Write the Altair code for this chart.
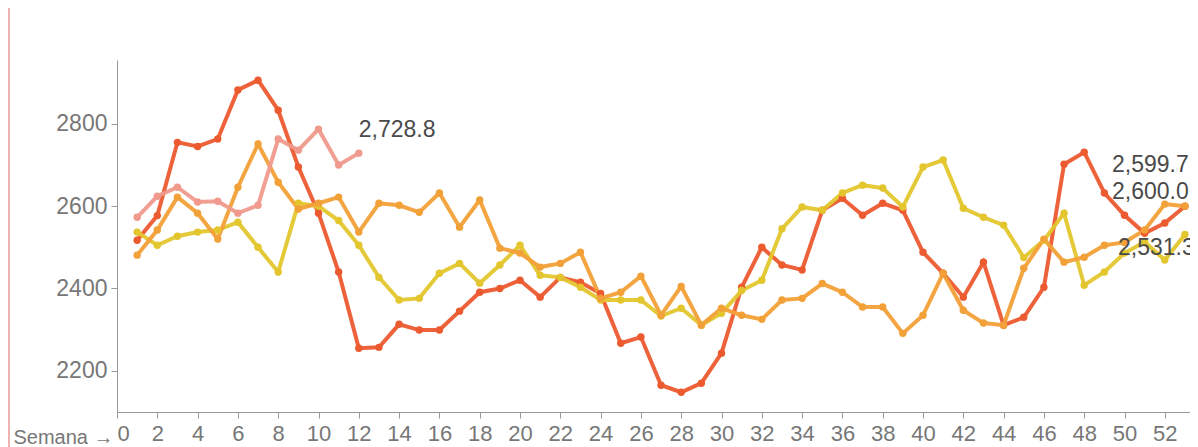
import altair as alt
import pandas as pd

series_names = ["2021", "2022", "2023", "2024"]
series_colors = ["#ec5a2f", "#e3c62e", "#f2a038", "#ef9a8c"]

red_vals = [2517, 2577, 2755, 2745, 2763, 2882, 2906, 2833, 2695, 2583, 2440, 2255, 2257,
            2313, 2299, 2299, 2345, 2391, 2400, 2420, 2379, 2427, 2415, 2388, 2267, 2282,
            2165, 2148, 2170, 2243, 2403, 2500, 2457, 2445, 2590, 2619, 2578, 2607, 2590,
            2488, 2437, 2379, 2464, 2311, 2330, 2403, 2702, 2731, 2632, 2578, 2534, 2559, 2599.7]
yellow_vals = [2537, 2505, 2527, 2537, 2542, 2561, 2500, 2440, 2607, 2600, 2565, 2505, 2427,
               2372, 2376, 2437, 2461, 2413, 2457, 2505, 2432, 2427, 2403, 2372, 2372, 2372,
               2333, 2352, 2311, 2340, 2395, 2420, 2545, 2598, 2590, 2632, 2651, 2644, 2598,
               2695, 2712, 2595, 2573, 2554, 2475, 2517, 2583, 2408, 2440, 2486, 2513, 2469, 2531.3]
orange_vals = [2481, 2542, 2622, 2583, 2520, 2646, 2751, 2658, 2593, 2607, 2622, 2537, 2607,
               2602, 2585, 2632, 2549, 2615, 2498, 2486, 2452, 2461, 2488, 2376, 2391, 2430,
               2335, 2405, 2311, 2352, 2335, 2325, 2372, 2376, 2412, 2391, 2355, 2355, 2291,
               2335, 2437, 2347, 2316, 2311, 2449, 2520, 2464, 2476, 2505, 2512, 2542, 2605, 2600.0]
pink_vals = [2573, 2624, 2646, 2610, 2612, 2583, 2602, 2763, 2736, 2787, 2700, 2728.8]

all_vals = [red_vals, yellow_vals, orange_vals, pink_vals]

rows = []
for name, vals in zip(series_names, all_vals):
    for i, v in enumerate(vals):
        rows.append({"serie": name, "semana": i + 1, "valor": v})
df = pd.DataFrame(rows)

W = 1073
H = 352

x_enc = alt.X("semana:Q",
              scale=alt.Scale(domain=[0, 53.25], nice=False, zero=False),
              axis=alt.Axis(values=list(range(0, 54)),
                            labelExpr="datum.value % 2 == 0 ? datum.label : ''",
                            labelOverlap=False, grid=False, tickSize=6,
                            labelPadding=5, labelFontSize=22, labelColor="#777777",
                            domainColor="#999999", tickColor="#999999",
                            title="Semana \u2192", titleX=-4, titleY=25,
                            titleAlign="right", titleBaseline="middle",
                            titleFontSize=20, titleFontWeight="normal",
                            titleColor="#777777"))
y_enc = alt.Y("valor:Q",
              scale=alt.Scale(domain=[2100, 2955], nice=False, zero=False),
              axis=alt.Axis(values=[2200, 2400, 2600, 2800], format="d", grid=False,
                            tickSize=6, labelPadding=4, labelFontSize=23,
                            labelColor="#777777", domainColor="#999999",
                            tickColor="#999999", title=None))
color_enc = alt.Color("serie:N", scale=alt.Scale(domain=series_names, range=series_colors),
                      legend=None)

lines = alt.Chart(df).mark_line(
    strokeWidth=4, opacity=0.95,
    point=alt.OverlayMarkDef(size=55, filled=True, opacity=1)
).encode(x=x_enc, y=y_enc, color=color_enc,
         order=alt.Order("semana:Q"),
         detail="serie:N")

last = df.groupby("serie", as_index=False).last()
last["texto"] = last["valor"].map(lambda v: f"{v:,.1f}")

label_offsets = {"2021": (-73, -41), "2023": (-73, -14), "2022": (-67, 14), "2024": (0, -23)}
text_layers = []
for name, (dx, dy) in label_offsets.items():
    text_layers.append(
        alt.Chart(last[last["serie"] == name]).mark_text(
            align="left", baseline="middle", dx=dx, dy=dy, fontSize=23,
            color="#4a4a4a", font="Liberation Sans"
        ).encode(x="semana:Q", y="valor:Q", text="texto:N")
    )

border = alt.Chart(df).mark_rule(color="#f0b2b0", strokeWidth=2).encode(
    x=alt.value(-108), y=alt.value(-52), y2=alt.value(H + 35))

chart = alt.layer(lines, *text_layers, border).properties(
    width=W, height=H,
    autosize=alt.AutoSizeParams(type="none"),
    padding={"left": 109, "top": 52, "right": 0, "bottom": 35}
).configure(font="Liberation Sans", view=alt.ViewConfig(stroke=None))

chart.save("out.html", embed_options={"renderer": "svg", "actions": False})
